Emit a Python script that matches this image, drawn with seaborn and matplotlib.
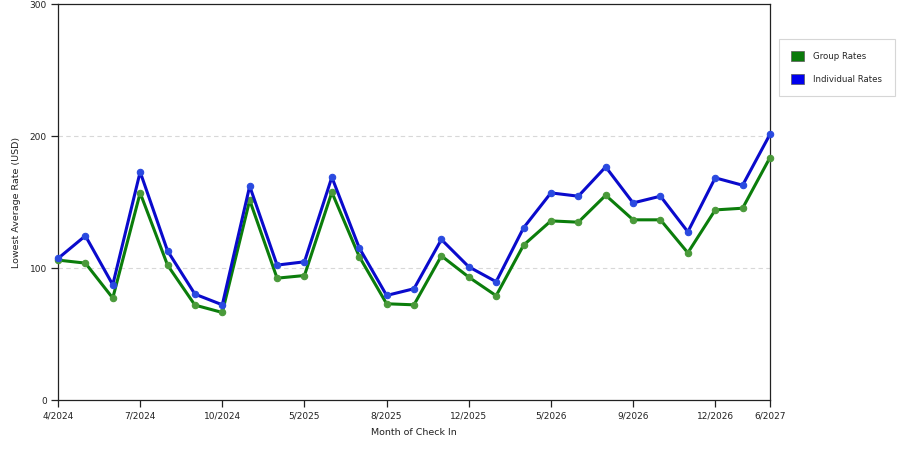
import matplotlib
matplotlib.use("Agg")
import matplotlib.pyplot as plt
from matplotlib.patches import Patch
import seaborn as sns
import pandas as pd

months = ["4/2024", "5/2024", "6/2024", "7/2024", "8/2024", "9/2024", "10/2024",
          "3/2025", "4/2025", "5/2025", "6/2025", "7/2025", "8/2025", "9/2025",
          "10/2025", "12/2025", "1/2026", "4/2026", "5/2026", "6/2026", "7/2026",
          "9/2026", "10/2026", "11/2026", "12/2026", "3/2027", "6/2027"]
shown_labels = ["4/2024", "7/2024", "10/2024", "5/2025", "8/2025", "12/2025",
                "5/2026", "9/2026", "12/2026", "6/2027"]
group_rates = [106, 103.7, 77.2, 156.9, 102.2, 71.9, 66.3, 151.4, 92.3, 94.3, 157.4,
               108.7, 72.9, 72.1, 109.2, 93.1, 79.0, 117.3, 135.7, 134.7, 155.1,
               136.5, 136.5, 111.5, 144.0, 145.3, 183.7]
individual_rates = [107.2, 124.4, 87.3, 172.8, 113.0, 80.2, 72.1, 162.0, 102.2, 104.7,
                    168.8, 115.3, 79.2, 84.3, 121.6, 100.9, 89.6, 130.4, 156.9, 154.4,
                    176.6, 149.3, 154.4, 127.4, 168.3, 162.7, 201.3]
series_names = ["Group Rates", "Individual Rates"]
y_ticks = [0, 100, 200, 300]

line_colors = {"Group Rates": "#0b7d0b", "Individual Rates": "#0a0acc"}
marker_colors = {"Group Rates": "#4a9a3a", "Individual Rates": "#2a4ae0"}
legend_colors = {"Group Rates": "#0a7a0a", "Individual Rates": "#0000ee"}

df = pd.DataFrame({
    "pos": list(range(len(months))) * 2,
    "month": months * 2,
    "rate": group_rates + individual_rates,
    "series": [series_names[0]] * len(months) + [series_names[1]] * len(months),
})

sns.set_theme(style="white")
plt.rcParams["font.family"] = ["DejaVu Sans"]

fig = plt.figure(figsize=(9, 4.5), dpi=100)
ax = fig.add_axes([58 / 900, 1 - 400 / 450, (770 - 58) / 900, (400 - 4) / 450])

for name in series_names:
    sub = df[df["series"] == name]
    sns.lineplot(data=sub, x="pos", y="rate", ax=ax, color=line_colors[name],
                 linewidth=2.2, marker="o", markersize=4.6,
                 markerfacecolor=marker_colors[name], markeredgecolor=marker_colors[name],
                 markeredgewidth=0.8, legend=False, zorder=3, clip_on=False)

ax.set_xlim(0, len(months) - 1)
ax.set_ylim(0, 300)
ax.set_yticks(y_ticks)
ax.set_yticklabels([str(v) for v in y_ticks])
tick_pos = [months.index(m) for m in shown_labels]
ax.set_xticks(tick_pos)
ax.set_xticklabels(shown_labels)

for v in [100, 200]:
    ax.axhline(v, color="#d8d8d8", linestyle=(0, (4, 3)), linewidth=0.8, zorder=1)

for s in ax.spines.values():
    s.set_color("#222222")
    s.set_linewidth(0.9)

ax.tick_params(axis="both", which="both", direction="out", length=5, width=0.9,
               color="#222222", labelsize=6.5, labelcolor="#222222", pad=3,
               bottom=True, left=True)

ax.set_xlabel("Month of Check In", fontsize=6.8, color="#222222", labelpad=6)
ax.set_ylabel("Lowest Average Rate (USD)", fontsize=6.8, color="#222222", labelpad=6)

handles = [Patch(facecolor=legend_colors[n], edgecolor="#5a5a5a", linewidth=0.5, label=n)
           for n in series_names]
leg = fig.legend(handles=handles, loc="upper left", bbox_to_anchor=(779 / 900, 1 - 39 / 450),
                 frameon=True, fancybox=False, fontsize=6.2, handlelength=1.5,
                 handleheight=1.4, handletextpad=1.0, borderpad=1.45, labelspacing=1.45,
                 borderaxespad=0)
leg.get_frame().set_edgecolor("#cccccc")
leg.get_frame().set_linewidth(0.8)

fig.savefig("out.png", dpi=100)
